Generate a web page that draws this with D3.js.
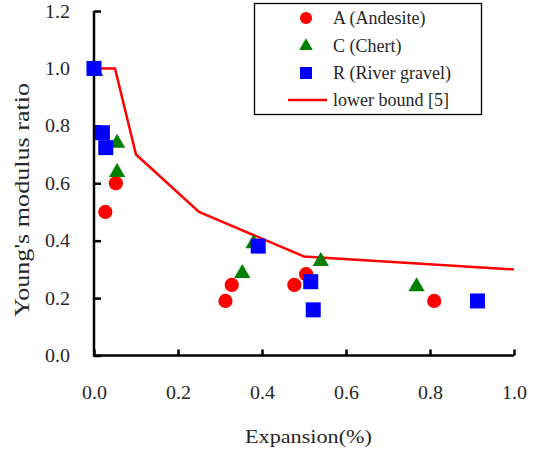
<!DOCTYPE html>
<html>
<head>
<meta charset="utf-8">
<script src="https://cdn.jsdelivr.net/npm/d3@7"></script>
<style>
  html, body { margin: 0; padding: 0; background: #fff; }
  svg text { font-family: "Liberation Serif", "DejaVu Serif", serif !important; fill: #262626; }
</style>
</head>
<body>
<svg id="chart" width="534" height="452"></svg>
<script>
// Young's modulus ratio versus expansion for three aggregates
const andesite = [
  [0.027, 0.50], [0.052, 0.60], [0.313, 0.19], [0.328, 0.246],
  [0.477, 0.246], [0.505, 0.283], [0.81, 0.19]
];
const chert = [
  [0.003, 0.99], [0.055, 0.74], [0.055, 0.638], [0.353, 0.286],
  [0.38, 0.39], [0.54, 0.328], [0.768, 0.24]
];
const riverGravel = [
  [0.0, 1.0], [0.02, 0.776], [0.028, 0.724], [0.391, 0.381],
  [0.516, 0.257], [0.522, 0.159], [0.913, 0.19]
];
const lowerBound = [
  [0.0, 1.0], [0.05, 1.0], [0.1, 0.70], [0.25, 0.50], [0.5, 0.345], [1.0, 0.30]
];
const xTicks = [0, 0.2, 0.4, 0.6, 0.8, 1.0];
const yTicks = [0, 0.2, 0.4, 0.6, 0.8, 1.0, 1.2];
const legendLabels = ["A (Andesite)", "C (Chert)", "R (River gravel)", "lower bound [5]"];

const svg = d3.select("#chart");
const x = d3.scaleLinear().domain([0, 1]).range([94, 514]);
const y = d3.scaleLinear().domain([0, 1.2]).range([355.5, 11]);

// axes with inward ticks
const xAxis = d3.axisBottom(x).tickValues(xTicks).tickSize(-6).tickPadding(0).tickFormat(d3.format(".1f"));
const yAxis = d3.axisLeft(y).tickValues(yTicks).tickSize(-7).tickPadding(0).tickFormat(d3.format(".1f"));

const gx = svg.append("g").attr("transform", `translate(0,${y(0)})`).call(xAxis);
const gy = svg.append("g").attr("transform", `translate(${x(0)},0)`).call(yAxis);

[gx, gy].forEach(g => {
  g.attr("font-family", null).attr("font-size", null);
  g.select(".domain").remove();
  g.selectAll(".tick line").attr("stroke", "#000").attr("stroke-width", 2.5);
  g.selectAll(".tick text").style("font-size", "19px")
    .attr("textLength", 25).attr("lengthAdjust", "spacingAndGlyphs");
});
gx.selectAll(".tick text").attr("y", 37).attr("dy", "0.32em");
gy.selectAll(".tick text").attr("x", -24).attr("dy", "0.32em");

// axis lines
svg.append("path")
  .attr("d", `M${x(0)},${y(1.2)}V${y(0)}H${x(1)}`)
  .attr("fill", "none").attr("stroke", "#000").attr("stroke-width", 2.5);

// axis titles
svg.append("text")
  .attr("x", 245).attr("y", 443)
  .style("font-size", "19px")
  .attr("textLength", 127).attr("lengthAdjust", "spacingAndGlyphs")
  .text("Expansion(%)");

svg.append("text")
  .attr("transform", "translate(29,200) rotate(-90)")
  .attr("text-anchor", "middle").style("font-size", "20px")
  .attr("textLength", 234).attr("lengthAdjust", "spacingAndGlyphs")
  .text("Young's modulus ratio");

// lower bound line
svg.append("path")
  .datum(lowerBound)
  .attr("d", d3.line().x(d => x(d[0])).y(d => y(d[1])))
  .attr("fill", "none").attr("stroke", "#ff0000").attr("stroke-width", 2.5);

// markers
const circleSym = d3.symbol().type(d3.symbolCircle).size(160);
const triSym = d3.symbol().type(d3.symbolTriangle).size(115);
const sqSym = d3.symbol().type(d3.symbolSquare).size(225);

svg.append("g").selectAll("path").data(andesite).join("path")
  .attr("d", circleSym).attr("fill", "#ff0000")
  .attr("transform", d => `translate(${x(d[0])},${y(d[1])})`);
svg.append("g").selectAll("path").data(chert).join("path")
  .attr("d", triSym).attr("fill", "#008000")
  .attr("transform", d => `translate(${x(d[0])},${y(d[1])})`);
svg.append("g").selectAll("path").data(riverGravel).join("path")
  .attr("d", sqSym).attr("fill", "#0000ff")
  .attr("transform", d => `translate(${x(d[0])},${y(d[1])})`);

// legend
const lg = svg.append("g");
lg.append("rect").attr("x", 254.5).attr("y", 3.5).attr("width", 227).attr("height", 111)
  .attr("fill", "#fff").attr("stroke", "#000").attr("stroke-width", 1.3);
const rowY = [18, 46, 73, 100];
const legendSyms = [
  d3.symbol().type(d3.symbolCircle).size(115)(),
  d3.symbol().type(d3.symbolTriangle).size(80)(),
  d3.symbol().type(d3.symbolSquare).size(144)()
];
const legendColors = ["#ff0000", "#008000", "#0000ff"];
legendSyms.forEach((p, i) => {
  lg.append("path").attr("d", p).attr("fill", legendColors[i])
    .attr("transform", `translate(306,${rowY[i]})`);
});
lg.append("line").attr("x1", 288).attr("x2", 327).attr("y1", rowY[3]).attr("y2", rowY[3])
  .attr("stroke", "#ff0000").attr("stroke-width", 2.5);
legendLabels.forEach((t, i) => {
  lg.append("text").attr("x", 333).attr("y", rowY[i]).attr("dy", "0.32em")
    .style("font-size", "18px").text(t);
});
</script>
</body>
</html>
